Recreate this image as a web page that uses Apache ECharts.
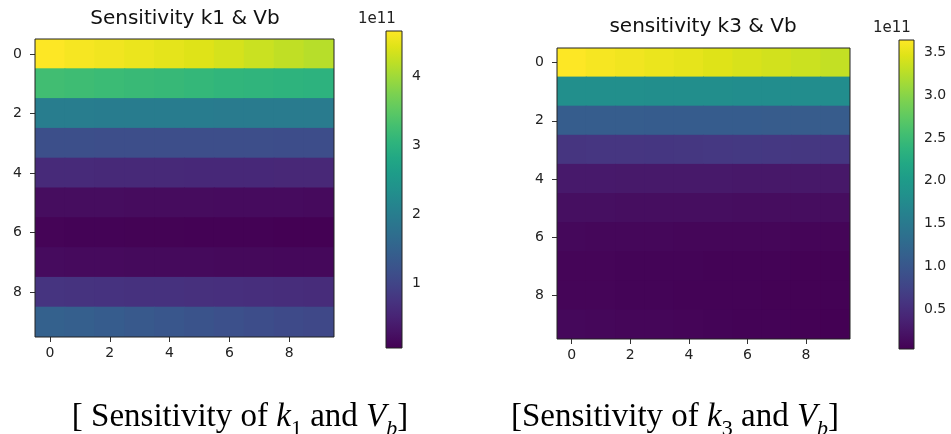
<!DOCTYPE html>
<html><head><meta charset="utf-8">
<script src="https://cdn.jsdelivr.net/npm/echarts@6/dist/echarts.min.js"></script>
<style>html,body{margin:0;padding:0;background:#fff}#c{width:951px;height:434px}</style>
</head><body><div id="c"></div>
<script>
// ---- data (values in units of 1e11) ----
const cols = ['0','1','2','3','4','5','6','7','8','9'];
const rows = ['0','1','2','3','4','5','6','7','8','9'];
const k1Values = [
  [4.65,4.60,4.56,4.51,4.47,4.42,4.35,4.28,4.21,4.15],
  [3.24,3.21,3.18,3.15,3.13,3.10,3.07,3.05,3.02,3.00],
  [1.99,1.99,1.98,1.98,1.97,1.97,1.96,1.96,1.95,1.95],
  [1.16,1.16,1.15,1.15,1.15,1.14,1.14,1.14,1.13,1.13],
  [0.60,0.60,0.59,0.59,0.59,0.58,0.58,0.58,0.57,0.57],
  [0.21,0.21,0.21,0.20,0.20,0.20,0.19,0.19,0.19,0.18],
  [0.10,0.09,0.09,0.08,0.08,0.07,0.07,0.07,0.06,0.06],
  [0.19,0.18,0.18,0.17,0.17,0.17,0.16,0.16,0.15,0.15],
  [0.75,0.73,0.72,0.71,0.70,0.69,0.68,0.66,0.65,0.63],
  [1.48,1.43,1.38,1.33,1.28,1.23,1.18,1.13,1.08,1.04]
];
const k3Values = [
  [3.65,3.61,3.58,3.54,3.51,3.47,3.43,3.40,3.36,3.32],
  [1.81,1.81,1.81,1.80,1.80,1.80,1.79,1.79,1.79,1.78],
  [1.09,1.09,1.09,1.08,1.08,1.08,1.08,1.07,1.07,1.07],
  [0.58,0.59,0.59,0.60,0.61,0.62,0.63,0.62,0.61,0.60],
  [0.28,0.28,0.27,0.27,0.27,0.27,0.26,0.26,0.26,0.26],
  [0.17,0.17,0.16,0.16,0.16,0.16,0.15,0.15,0.15,0.15],
  [0.10,0.09,0.09,0.09,0.08,0.08,0.08,0.08,0.07,0.07],
  [0.07,0.07,0.06,0.06,0.06,0.05,0.05,0.05,0.04,0.04],
  [0.07,0.07,0.06,0.06,0.05,0.05,0.05,0.04,0.04,0.04],
  [0.10,0.09,0.08,0.08,0.07,0.06,0.05,0.05,0.04,0.03]
];
const k1Ticks = [1, 2, 3, 4];
const k3Ticks = [0.5, 1, 1.5, 2, 2.5, 3, 3.5];
const k1Title = 'Sensitivity k1 & Vb';
const k3Title = 'sensitivity k3 & Vb';

const viridis = ['#440154','#471365','#482475','#463480','#414487','#3b528b','#355f8d','#2f6c8e','#2a788e','#25848e','#21918c','#1e9c89','#22a884','#2fb47c','#44bf70','#5ec962','#7ad151','#9bd93c','#bddf26','#dfe318','#fde725'];

function toCells(m){ const out=[]; m.forEach((r,i)=>r.forEach((v,j)=>out.push([j,i,v]))); return out; }
const k1Min = Math.min(...k1Values.flat()), k1Max = Math.max(...k1Values.flat());
const k3Min = Math.min(...k3Values.flat()), k3Max = Math.max(...k3Values.flat());

const TXT = '#222';
const FONT = 'DejaVu Sans';
const gridBase = {show:true, borderColor:'#222', borderWidth:1, backgroundColor:'transparent', z:10};
const tick = {show:true, alignWithLabel:true, interval:1, length:5, lineStyle:{color:'#333', width:1}};
function catX(gi){ return {gridIndex:gi, type:'category', data:cols, axisLine:{show:false}, axisTick:tick, splitLine:{show:false},
  axisLabel:{interval:1, fontSize:14, fontFamily:FONT, color:TXT, margin:9}}; }
function catY(gi){ return {gridIndex:gi, type:'category', data:rows, inverse:true, axisLine:{show:false}, axisTick:tick, splitLine:{show:false},
  axisLabel:{interval:1, fontSize:14, fontFamily:FONT, color:TXT, margin:13}}; }
function cbY(gi, mn, mx, ticks, fmt){ return {gridIndex:gi, type:'value', min:mn, max:mx, position:'right', axisLine:{show:false}, splitLine:{show:false},
  axisTick:{show:true, customValues:ticks, length:5, lineStyle:{color:'#333'}},
  axisLabel:{customValues:ticks, fontSize:14, fontFamily:FONT, color:TXT, margin:10, formatter:fmt}}; }
function cbSeries(ai, mn, mx){ return {type:'custom', xAxisIndex:ai, yAxisIndex:ai, data:[[0, mn, mx]], encode:{x:0, y:[1,2]}, silent:true,
  renderItem:(params, api)=>{
    const p0 = api.coord([0, api.value(2)]); const p1 = api.coord([1, api.value(1)]);
    return {type:'rect', shape:{x:p0[0], y:p0[1], width:p1[0]-p0[0], height:p1[1]-p0[1]},
      style:{fill:new echarts.graphic.LinearGradient(0,1,0,0, viridis.map((c,i)=>({offset:i/(viridis.length-1), color:c})))}};
  }}; }
function heatSeries(ai, m){ return {type:'custom', xAxisIndex:ai, yAxisIndex:ai, data:toCells(m), encode:{x:0, y:1}, silent:true, clip:true,
  renderItem:(params, api)=>{
    const c = api.coord([api.value(0), api.value(1)]);
    const s = api.size([1, 1]);
    return {type:'rect', shape:{x:c[0]-s[0]/2-0.5, y:c[1]-s[1]/2-0.5, width:s[0]+1, height:s[1]+1},
      style:{fill:api.visual('color')}};
  }}; }
function caption(x, y, lead, sub){
  const serif = 'Liberation Serif';
  return {type:'text', x:x, y:y, style:{text:'{n|'+lead+'}{i|k}{s|'+sub+'}{n| and }{i|V}{si|b}{n|]}', align:'center', verticalAlign:'top',
    rich:{
      n:{fontFamily:serif, fontSize:33, lineHeight:36, verticalAlign:'top', fill:'#000'},
      i:{fontFamily:serif, fontSize:33, lineHeight:36, verticalAlign:'top', fontStyle:'italic', fill:'#000'},
      s:{fontFamily:serif, fontSize:22, lineHeight:56, verticalAlign:'middle', fill:'#000'},
      si:{fontFamily:serif, fontSize:22, lineHeight:56, verticalAlign:'middle', fontStyle:'italic', fill:'#000'}
    }}};
}

const chart = echarts.init(document.getElementById('c'), null, {renderer:'canvas'});
chart.setOption({
  animation:false,
  backgroundColor:'#fff',
  grid:[
    Object.assign({left:35, top:39, width:299, height:298}, gridBase),
    Object.assign({left:386, top:31, width:16, height:317}, gridBase),
    Object.assign({left:557, top:48, width:293, height:291}, gridBase),
    Object.assign({left:899, top:40, width:15, height:309}, gridBase)
  ],
  xAxis:[
    catX(0),
    {gridIndex:1, type:'value', min:0, max:1, show:false},
    catX(2),
    {gridIndex:3, type:'value', min:0, max:1, show:false}
  ],
  yAxis:[
    catY(0),
    cbY(1, k1Min, k1Max, k1Ticks, v=>String(v)),
    catY(2),
    cbY(3, k3Min, k3Max, k3Ticks, v=>v.toFixed(1))
  ],
  visualMap:[
    {show:false, seriesIndex:0, dimension:2, min:k1Min, max:k1Max, inRange:{color:viridis}},
    {show:false, seriesIndex:2, dimension:2, min:k3Min, max:k3Max, inRange:{color:viridis}}
  ],
  series:[
    heatSeries(0, k1Values),
    cbSeries(1, k1Min, k1Max),
    heatSeries(2, k3Values),
    cbSeries(3, k3Min, k3Max)
  ],
  graphic:[
    {type:'text', x:185, y:9, style:{text:k1Title, fontFamily:FONT, fontSize:20, fill:'#111', align:'center', verticalAlign:'top'}},
    {type:'text', x:703, y:17, style:{text:k3Title, fontFamily:FONT, fontSize:20, fill:'#111', align:'center', verticalAlign:'top'}},
    {type:'text', x:358, y:12, style:{text:'1e11', fontFamily:FONT, fontSize:15, fill:TXT, align:'left', verticalAlign:'top'}},
    {type:'text', x:873, y:21, style:{text:'1e11', fontFamily:FONT, fontSize:15, fill:TXT, align:'left', verticalAlign:'top'}},
    caption(240, 401, '[ Sensitivity of ', '1'),
    caption(675, 401, '[Sensitivity of ', '3')
  ]
});
</script></body></html>
